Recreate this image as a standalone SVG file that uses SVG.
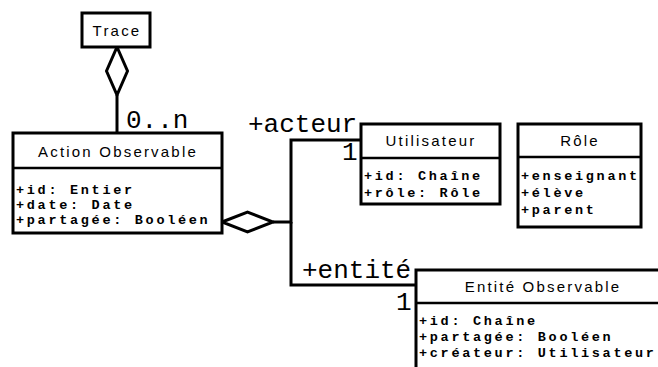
<svg xmlns="http://www.w3.org/2000/svg" width="658" height="367" viewBox="0 0 658 367">
<style>
.box{fill:#fff;stroke:#000;stroke-width:3}
.sep{stroke:#000;stroke-width:2.5}
.title{font-family:"Liberation Sans",Arial,sans-serif;font-size:15px;letter-spacing:2.2px;text-anchor:middle;fill:#000}
.attr{font-family:"Liberation Mono","Courier New",monospace;font-size:13.5px;font-weight:bold;letter-spacing:2.7px;fill:#000}
.lbl{font-family:"Liberation Mono","Courier New",monospace;font-size:26px;fill:#000}
.line{fill:none;stroke:#000;stroke-width:3}
.dia{fill:#fff;stroke:#000;stroke-width:3}
</style>
<rect width="658" height="367" fill="#fff"/>
<g id="connectors">
<line class="line" x1="117" y1="95" x2="117" y2="133"/>
<polygon class="dia" points="117,47 127.5,71 117,95 106.5,71"/>
<polyline class="line" points="273,222 291,222 291,140 361,140"/>
<polyline class="line" points="291,222 291,285 416,285"/>
<polygon class="dia" points="222,222 247.5,212 273,222 247.5,232"/>
<text class="lbl" x="126" y="128">0..n</text>
<text class="lbl" x="248" y="132">+acteur</text>
<text class="lbl" x="342" y="160">1</text>
<text class="lbl" x="302" y="278">+entité</text>
<text class="lbl" x="396" y="310">1</text>
</g>
<g id="trace">
<rect class="box" x="82" y="13" width="68" height="34"/>
<text class="title" x="117" y="36">Trace</text>
</g>
<g id="action">
<rect class="box" x="13" y="133" width="209" height="100"/>
<line class="sep" x1="13" y1="168" x2="222" y2="168"/>
<text class="title" x="118" y="157">Action Observable</text>
<text class="attr" x="16" y="194">+id: Entier</text>
<text class="attr" x="16" y="209">+date: Date</text>
<text class="attr" x="16" y="224">+partagée: Booléen</text>
</g>
<g id="utilisateur">
<rect class="box" x="361" y="124" width="139" height="80"/>
<line class="sep" x1="361" y1="158" x2="500" y2="158"/>
<text class="title" x="431" y="146">Utilisateur</text>
<text class="attr" x="364" y="180">+id: Chaîne</text>
<text class="attr" x="364" y="197">+rôle: Rôle</text>
</g>
<g id="role">
<rect class="box" x="518" y="124" width="123" height="103"/>
<line class="sep" x1="518" y1="157" x2="641" y2="157"/>
<text class="title" x="580" y="146">Rôle</text>
<text class="attr" x="521" y="180">+enseignant</text>
<text class="attr" x="521" y="197">+élève</text>
<text class="attr" x="521" y="214">+parent</text>
</g>
<g id="entite">
<rect class="box" x="416" y="270" width="254" height="120"/>
<line class="sep" x1="416" y1="303" x2="670" y2="303"/>
<text class="title" x="543" y="292">Entité Observable</text>
<text class="attr" x="419" y="325">+id: Chaîne</text>
<text class="attr" x="419" y="341">+partagée: Booléen</text>
<text class="attr" x="419" y="357">+créateur: Utilisateur</text>
</g>
</svg>
